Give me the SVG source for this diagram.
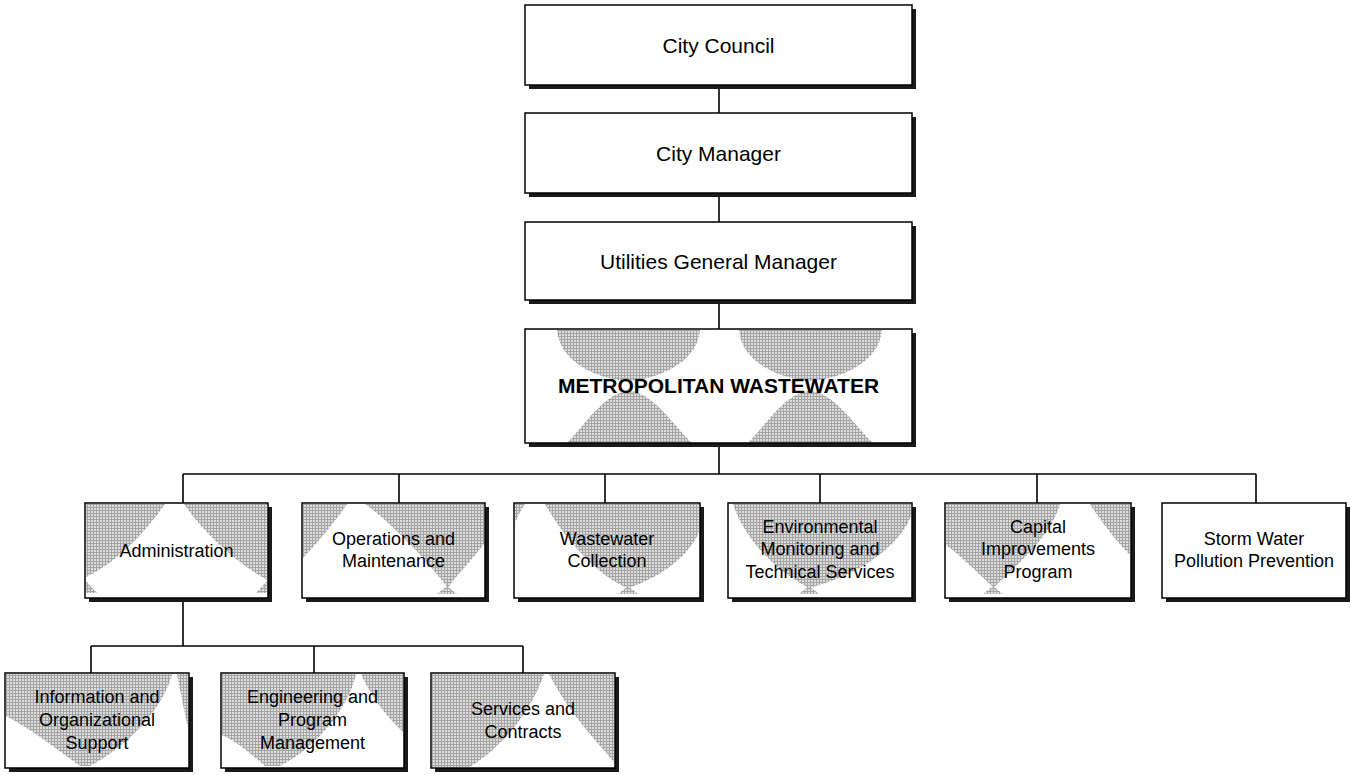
<svg xmlns="http://www.w3.org/2000/svg" width="1351" height="775" viewBox="0 0 1351 775">
<defs>
<pattern id="dith" width="3" height="3" patternUnits="userSpaceOnUse">
<rect width="3" height="3" fill="#dcdcdc"/>
<rect x="0" y="0" width="3" height="1" fill="#a4a4a4"/>
<rect x="0" y="0" width="1" height="3" fill="#a4a4a4"/>
</pattern>
</defs>
<style>
.sh{fill:#1a1a1a}
.bg{fill:#fff}
.bd{fill:none;stroke:#000;stroke-width:1.5}
.g{fill:url(#dith)}
.t{font-family:"Liberation Sans",Arial,sans-serif;font-size:18px;fill:#000;text-anchor:middle}
.t1{font-family:"Liberation Sans",Arial,sans-serif;font-size:21px;fill:#000;text-anchor:middle}
.tb{font-family:"Liberation Sans",Arial,sans-serif;font-size:21px;font-weight:bold;fill:#000;text-anchor:middle}
.c{stroke:#000;stroke-width:1.6;fill:none}
</style>
<rect width="1351" height="775" fill="#fff"/>

<g id="connectors">
<line class="c" x1="719" y1="88" x2="719" y2="113"/>
<line class="c" x1="719" y1="196" x2="719" y2="222"/>
<line class="c" x1="719" y1="303" x2="719" y2="329"/>
<line class="c" x1="719" y1="446" x2="719" y2="474"/>
<line class="c" x1="183" y1="474" x2="1256" y2="474"/>
<line class="c" x1="183" y1="474" x2="183" y2="503"/>
<line class="c" x1="399" y1="474" x2="399" y2="503"/>
<line class="c" x1="605" y1="474" x2="605" y2="503"/>
<line class="c" x1="820" y1="474" x2="820" y2="503"/>
<line class="c" x1="1037" y1="474" x2="1037" y2="503"/>
<line class="c" x1="1256" y1="474" x2="1256" y2="503"/>
<line class="c" x1="183" y1="601" x2="183" y2="646"/>
<line class="c" x1="91" y1="646" x2="523" y2="646"/>
<line class="c" x1="91" y1="646" x2="91" y2="673"/>
<line class="c" x1="314" y1="646" x2="314" y2="673"/>
<line class="c" x1="523" y1="646" x2="523" y2="673"/>
</g>

<g id="city-council">
<rect class="sh" x="529" y="9" width="387" height="80"/>
<rect class="bg" x="525" y="5" width="387" height="80"/>
<rect class="bd" x="525" y="5" width="387" height="80"/>
<text class="t1" x="718.5" y="52.5">City Council</text>
</g>

<g id="city-manager">
<rect class="sh" x="529" y="117" width="387" height="80"/>
<rect class="bg" x="525" y="113" width="387" height="80"/>
<rect class="bd" x="525" y="113" width="387" height="80"/>
<text class="t1" x="718.5" y="160.5">City Manager</text>
</g>

<g id="utilities-gm">
<rect class="sh" x="529" y="226" width="387" height="78"/>
<rect class="bg" x="525" y="222" width="387" height="78"/>
<rect class="bd" x="525" y="222" width="387" height="78"/>
<text class="t1" x="718.5" y="268.5">Utilities General Manager</text>
</g>

<g id="metro-wastewater">
<rect class="sh" x="529" y="333" width="387" height="114"/>
<rect class="bg" x="525" y="329" width="387" height="114"/>
<path class="g" d="M557,330 C560,366 605,380 628,381 C651,380 697,366 700,330 Z"/>
<path class="g" d="M739,330 C742,366 787,380 810,381 C833,380 879,366 882,330 Z"/>
<path class="g" d="M567,443 C585,425 605,392 629,391 C653,392 673,425 692,443 Z"/>
<path class="g" d="M748,443 C766,425 786,392 810,391 C834,392 854,425 873,443 Z"/>
<rect class="bd" x="525" y="329" width="387" height="114"/>
<text class="tb" x="718.5" y="393">METROPOLITAN WASTEWATER</text>
</g>

<g id="administration">
<rect class="sh" x="89" y="507" width="183" height="95"/>
<rect class="bg" x="85" y="503" width="183" height="95"/>
<path class="g" d="M86,504 L165,504 C140,540 110,566 86,577 Z"/>
<path class="g" d="M184,504 L267,504 L267,580 C240,565 205,535 184,504 Z"/>
<path class="g" d="M86,581 L97,593 L86,593 Z"/>
<path class="g" d="M267,581 L256,593 L267,593 Z"/>
<rect class="bd" x="85" y="503" width="183" height="95"/>
<text class="t" x="176.5" y="557">Administration</text>
</g>

<g id="operations">
<rect class="sh" x="306" y="507" width="183" height="95"/>
<rect class="bg" x="302" y="503" width="183" height="95"/>
<path class="g" d="M303,504 L347,504 C335,522 318,542 303,558 Z"/>
<path class="g" d="M365,504 L484,504 L484,544 C470,562 455,577 448,588 C430,565 400,530 365,504 Z"/>
<path class="g" d="M447,586 L457,594 L437,594 Z"/>
<rect class="bd" x="302" y="503" width="183" height="95"/>
<text class="t" x="393.5" y="545">Operations and</text>
<text class="t" x="393.5" y="567">Maintenance</text>
</g>

<g id="wastewater-collection">
<rect class="sh" x="518" y="507" width="186" height="95"/>
<rect class="bg" x="514" y="503" width="186" height="95"/>
<path class="g" d="M515,504 L525,504 C521,510 518,516 515,522 Z"/>
<path class="g" d="M545,504 L699,504 L699,532 C690,555 660,578 628,588 C600,578 565,540 545,504 Z"/>
<path class="g" d="M628,586 L638,594 L618,594 Z"/>
<rect class="bd" x="514" y="503" width="186" height="95"/>
<text class="t" x="607" y="545">Wastewater</text>
<text class="t" x="607" y="567">Collection</text>
</g>

<g id="environmental">
<rect class="sh" x="732" y="507" width="184" height="95"/>
<rect class="bg" x="728" y="503" width="184" height="95"/>
<path class="g" d="M733,504 L911,504 L911,516 C900,545 860,575 809,588 C775,570 745,540 733,504 Z"/>
<path class="g" d="M809,586 L819,594 L799,594 Z"/>
<rect class="bd" x="728" y="503" width="184" height="95"/>
<text class="t" x="820" y="533">Environmental</text>
<text class="t" x="820" y="555">Monitoring and</text>
<text class="t" x="820" y="578">Technical Services</text>
</g>

<g id="capital-improvements">
<rect class="sh" x="949" y="507" width="186" height="95"/>
<rect class="bg" x="945" y="503" width="186" height="95"/>
<path class="g" d="M946,504 L1060,504 C1050,540 1010,570 994,588 C980,575 960,555 946,545 Z"/>
<path class="g" d="M1090,504 L1130,504 L1130,555 C1115,540 1100,520 1090,504 Z"/>
<path class="g" d="M993,586 L1003,594 L983,594 Z"/>
<rect class="bd" x="945" y="503" width="186" height="95"/>
<text class="t" x="1038" y="533">Capital</text>
<text class="t" x="1038" y="555">Improvements</text>
<text class="t" x="1038" y="578">Program</text>
</g>

<g id="storm-water">
<rect class="sh" x="1166" y="507" width="184" height="95"/>
<rect class="bg" x="1162" y="503" width="184" height="95"/>
<rect class="bd" x="1162" y="503" width="184" height="95"/>
<text class="t" x="1254" y="545">Storm Water</text>
<text class="t" x="1254" y="567">Pollution Prevention</text>
</g>

<g id="info-org-support">
<rect class="sh" x="9" y="677" width="184" height="95"/>
<rect class="bg" x="5" y="673" width="184" height="95"/>
<path class="g" d="M6,674 L172,674 C165,705 130,745 90,766 L80,766 C55,748 30,728 6,716 Z"/>
<path class="g" d="M177,674 L188,674 L188,728 C184,710 180,690 177,674 Z"/>
<rect class="bd" x="5" y="673" width="184" height="95"/>
<text class="t" x="97" y="703">Information and</text>
<text class="t" x="97" y="726">Organizational</text>
<text class="t" x="97" y="749">Support</text>
</g>

<g id="engineering">
<rect class="sh" x="225" y="677" width="183" height="95"/>
<rect class="bg" x="221" y="673" width="183" height="95"/>
<path class="g" d="M222,674 L356,674 C348,710 315,748 280,766 L265,766 C252,755 238,742 222,735 Z"/>
<path class="g" d="M361,674 L403,674 L403,732 C385,715 370,695 361,674 Z"/>
<rect class="bd" x="221" y="673" width="183" height="95"/>
<text class="t" x="312.5" y="703">Engineering and</text>
<text class="t" x="312.5" y="726">Program</text>
<text class="t" x="312.5" y="749">Management</text>
</g>

<g id="services-contracts">
<rect class="sh" x="435" y="677" width="184" height="95"/>
<rect class="bg" x="431" y="673" width="184" height="95"/>
<path class="g" d="M432,674 L544,674 C530,715 500,748 470,767 L432,767 Z"/>
<path class="g" d="M549,674 L614,674 L614,762 C600,745 570,715 549,674 Z"/>
<rect class="bd" x="431" y="673" width="184" height="95"/>
<text class="t" x="523" y="715">Services and</text>
<text class="t" x="523" y="738">Contracts</text>
</g>
</svg>
